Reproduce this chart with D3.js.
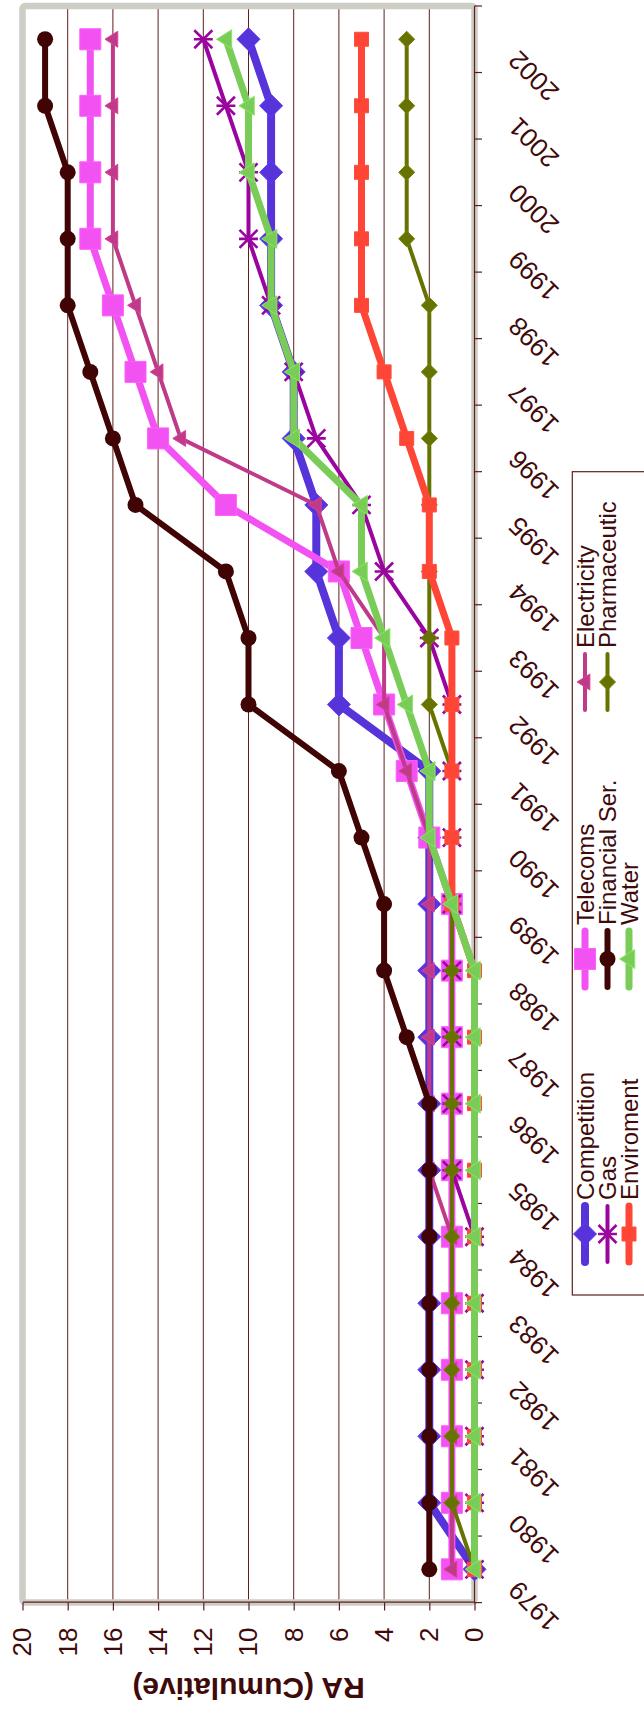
<!DOCTYPE html>
<html>
<head>
<meta charset="utf-8">
<script src="https://cdn.jsdelivr.net/npm/d3@7"></script>
<style>
  html, body { margin: 0; padding: 0; background: #ffffff; }
  svg { display: block; }
  text { font-family: "Liberation Sans", Arial, sans-serif; }
</style>
</head>
<body>
<svg id="chart" width="644" height="1713"></svg>
<script>
// ---- data -------------------------------------------------------------
const years = [1979,1980,1981,1982,1983,1984,1985,1986,1987,1988,1989,1990,
               1991,1992,1993,1994,1995,1996,1997,1998,1999,2000,2001,2002];

const competition   = [0,2,2,2,2,2,2,2,2,2,2,2,2,6,6,7,7,8,8,9,9,9,9,10];
const gas           = [0,0,0,0,0,0,1,1,1,1,1,1,1,1,2,4,5,7,8,9,10,10,11,12];
const enviroment    = [0,0,0,0,0,0,0,0,0,0,1,1,1,1,1,2,2,3,4,5,5,5,5,5];
const telecoms      = [1,1,1,1,1,1,1,1,1,1,1,2,3,4,5,6,11,14,15,16,17,17,17,17];
const financialSer  = [2,2,2,2,2,2,2,2,3,4,4,5,6,10,10,11,15,16,17,18,18,18,19,19];
const water         = [0,0,0,0,0,0,0,0,0,0,1,2,2,3,4,5,5,8,8,9,9,10,10,11];
const electricity   = [1,1,1,1,1,1,2,2,2,2,2,2,3,4,4,6,7,13,14,15,16,16,16,16];
const pharmaceutic  = [0,1,1,1,1,1,1,1,1,1,1,1,1,2,2,2,2,2,2,2,3,3,3,3];

const valueTicks = [0,2,4,6,8,10,12,14,16,18,20];
const axisTitle = "RA (Cumulative)";

// series styling (drawing order: later series sit on top)
const series = [
  { name: "Competition",    values: competition,  color: "#5634da", width: 8, marker: "diamond",  size: 11.5 },
  { name: "Telecoms",       values: telecoms,     color: "#f352f3", width: 7, marker: "square",   size: 21 },
  { name: "Electricity",    values: electricity,  color: "#bf3a88", width: 4, marker: "triangle", size: 16 },
  { name: "Gas",            values: gas,          color: "#9a05a0", width: 4, marker: "star",     size: 9 },
  { name: "Financial Ser.", values: financialSer, color: "#400404", width: 6, marker: "circle",   size: 8 },
  { name: "Pharmaceutic",   values: pharmaceutic, color: "#667300", width: 4, marker: "diamond",  size: 8 },
  { name: "Enviroment",     values: enviroment,   color: "#ff4536", width: 7, marker: "square",   size: 14 },
  { name: "Water",          values: water,        color: "#7acc58", width: 7, marker: "triangle", size: 19 }
];

// legend layout: three columns of entries
const legendColumns = [
  ["Competition", "Gas", "Enviroment"],
  ["Telecoms", "Financial Ser.", "Water"],
  ["Electricity", "Pharmaceutic"]
];

// ---- layout (chart is drawn landscape, then turned a quarter turn) ---
const W = 1713, H = 644;
const plot = { left: 110.4, right: 1707, top: 22.5, bottom: 474.5 };
const ink = "#3f0a0a";
const gridColor = "#5e1e1e";

const svg = d3.select("#chart");
const g = svg.append("g").attr("transform", `translate(0,${W}) rotate(-90)`);

const x = d3.scaleBand().domain(years).range([plot.left, plot.right]).padding(0);
const cx = d => x(d) + x.bandwidth() / 2;
const y = d3.scaleLinear().domain([0, 20]).range([plot.bottom, plot.top]);

// gridlines
g.append("g").selectAll("line")
  .data(valueTicks.filter(v => v > 0 && v < 20))
  .join("line")
  .attr("x1", plot.left).attr("x2", plot.right)
  .attr("y1", d => y(d)).attr("y2", d => y(d))
  .attr("stroke", gridColor).attr("stroke-width", 1);

// plot-area frame
g.append("rect")
  .attr("x", plot.left).attr("y", plot.top)
  .attr("width", plot.right - plot.left).attr("height", plot.bottom - plot.top)
  .attr("rx", 3)
  .attr("fill", "none").attr("stroke", "#cdccc5").attr("stroke-width", 6.5);

// value axis
const yAxis = g.append("g")
  .attr("transform", `translate(${plot.left},0)`)
  .call(d3.axisLeft(y).tickValues(valueTicks).tickSize(8).tickSizeOuter(0).tickPadding(17));
yAxis.select(".domain").attr("stroke", gridColor).attr("stroke-width", 1.2);
yAxis.selectAll(".tick line").attr("stroke", gridColor).attr("stroke-width", 1.2);
yAxis.selectAll(".tick text")
  .attr("fill", ink).attr("font-size", 26)
  .style("font-family", "'Liberation Sans', Arial, sans-serif");

// category axis: line, ticks between categories, slanted year labels
const catAxis = g.append("g");
catAxis.append("line")
  .attr("x1", plot.left).attr("x2", plot.right)
  .attr("y1", plot.bottom).attr("y2", plot.bottom)
  .attr("stroke", gridColor).attr("stroke-width", 1.2);
const boundaries = years.map(d => x(d)).concat([x(years[years.length - 1]) + x.bandwidth()]);
catAxis.selectAll("line.tick")
  .data(boundaries)
  .join("line").attr("class", "tick")
  .attr("x1", d => d).attr("x2", d => d)
  .attr("y1", plot.bottom).attr("y2", plot.bottom + 7.5)
  .attr("stroke", gridColor).attr("stroke-width", 1.2);
catAxis.selectAll("text")
  .data(years)
  .join("text")
  .attr("transform", d => `translate(${cx(d) - 10},${plot.bottom + 45}) rotate(-45)`)
  .attr("text-anchor", "end")
  .attr("font-size", 26)
  .attr("fill", ink)
  .text(d => d);

// axis title
g.append("text")
  .attr("transform", `translate(35,${(plot.top + plot.bottom) / 2}) rotate(-90)`)
  .attr("text-anchor", "middle")
  .attr("font-size", 30)
  .attr("font-weight", "bold")
  .attr("fill", ink)
  .text(axisTitle);

// marker shapes
function markerPath(type, s) {
  switch (type) {
    case "diamond":  return `M0,${-s}L${s},0L0,${s}L${-s},0Z`;
    case "square":   return `M${-s/2},${-s/2}h${s}v${s}h${-s}Z`;
    case "triangle": { const h = s * 0.8; return `M0,${-h*0.62}L${s/2},${h*0.38}L${-s/2},${h*0.38}Z`; }
    case "star":     return `M${-s},${-s}L${s},${s}M${-s},${s}L${s},${-s}M0,${-s*1.05}L0,${s*1.05}`;
    default:         return null;
  }
}
function drawMarker(sel, s) {
  if (s.marker === "circle") {
    sel.append("circle").attr("r", s.size).attr("fill", s.color);
  } else if (s.marker === "star") {
    sel.append("path").attr("d", markerPath("star", s.size))
      .attr("fill", "none").attr("stroke", s.color).attr("stroke-width", 2.6);
  } else {
    sel.append("path").attr("d", markerPath(s.marker, s.size))
      .attr("fill", s.color)
      .attr("stroke", d3.color(s.color).brighter(0.35)).attr("stroke-width", 1);
  }
}

// series
const line = d3.line().x((d, i) => cx(years[i])).y(d => y(d));
series.forEach(s => {
  const sg = g.append("g").attr("class", "series");
  sg.append("path")
    .datum(s.values)
    .attr("d", line)
    .attr("fill", "none")
    .attr("stroke", s.color)
    .attr("stroke-width", s.width)
    .attr("stroke-linejoin", "round")
    .attr("stroke-linecap", "round");
  sg.selectAll("g.pt")
    .data(s.values)
    .join("g").attr("class", "pt")
    .attr("transform", (d, i) => `translate(${cx(years[i])},${y(d)})`)
    .each(function () { drawMarker(d3.select(this), s); });
});

// legend
const legend = g.append("g");
legend.append("rect")
  .attr("x", 418).attr("y", 572.3)
  .attr("width", 823.3).attr("height", 200)
  .attr("fill", "#ffffff").attr("stroke", gridColor).attr("stroke-width", 1.2);
const colX = [451, 726, 1003];
const rowY = [585, 607.5, 629];
legendColumns.forEach((col, ci) => {
  col.forEach((name, ri) => {
    const s = series.find(e => e.name === name);
    const eg = legend.append("g").attr("transform", `translate(${colX[ci]},${rowY[ri]})`);
    eg.append("line")
      .attr("x1", 0).attr("x2", 56).attr("y1", 0).attr("y2", 0)
      .attr("stroke", s.color).attr("stroke-width", s.width).attr("stroke-linecap", "round");
    drawMarker(eg.append("g").attr("transform", "translate(28,0)"), s);
    eg.append("text")
      .attr("x", 62).attr("y", 0).attr("dy", "0.36em")
      .attr("font-size", 24).attr("fill", ink)
      .text(name);
  });
});
</script>
</body>
</html>
